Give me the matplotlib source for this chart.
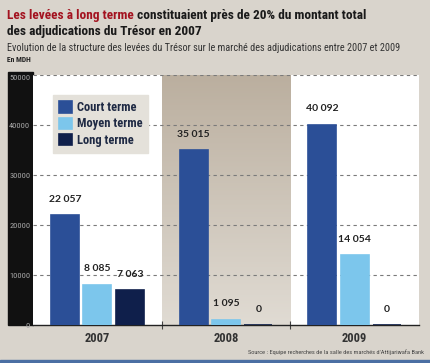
import numpy as np
import matplotlib
matplotlib.use('Agg')
import matplotlib.pyplot as plt
from matplotlib.patches import Rectangle
from matplotlib import font_manager as fm

## data (MDH)
years = ['2007', '2008', '2009']
series = ['Court terme', 'Moyen terme', 'Long terme']
court = [22057, 35015, 40092]
moyen = [8085, 1095, 14054]
long_ = [7063, 0, 0]
values = [court, moyen, long_]
yticks = [0, 10000, 20000, 30000, 40000, 50000]

colors = ['#2b4f97', '#7cc6ec', '#0f1f4b']
bg = '#d9d4cc'

## pick a condensed family if one is installed
installed = set(f.name for f in fm.fontManager.ttflist)
cands = ['Roboto Condensed', 'Liberation Sans Narrow', 'Archivo Narrow', 'PT Sans Narrow',
         'Barlow Condensed', 'Encode Sans Condensed', 'Open Sans Condensed', 'Fira Sans Condensed',
         'IBM Plex Sans Condensed', 'Asap Condensed', 'Saira Condensed']
narrow_name = next((c for c in cands if c in installed), 'DejaVu Sans')
narrow = [narrow_name, 'DejaVu Sans']

W, H = 430, 363
fig = plt.figure(figsize=(W / 100, H / 100), dpi=100, facecolor=bg)

## black strip behind y tick labels
fig.patches.append(Rectangle((8 / W, 1 - 325 / H), 25 / W, 253 / H,
                             transform=fig.transFigure, color='#111111', zorder=-1))

## axes placement in pixels
x0, x1, ytop, ybot = 33, 419, 75, 325
ax = fig.add_axes([x0 / W, 1 - ybot / H, (x1 - x0) / W, (ybot - ytop) / H])
ax.set_facecolor('white')

## shaded middle panel (2008), darker at top
grad = np.linspace(0, 1, 100).reshape(-1, 1)
cmap_bg = matplotlib.colors.LinearSegmentedColormap.from_list('bgp', ['#e0dbd3', '#bbaf9f'])
ax.imshow(grad, extent=(0.5, 1.5, 0, 50000), origin='lower', aspect='auto', cmap=cmap_bg, zorder=0)
ax.set_xlim(-0.5, 2.5)
ax.set_ylim(0, 50000)

## grid
for y in yticks[1:]:
    ax.axhline(y, color='#7a7a7a', lw=0.8, ls=(0, (3, 3)), zorder=1)

## bars
off = 0.252
bw = 0.217
x = np.arange(len(years))
for i, (vals, c) in enumerate(zip(values, colors)):
    xs = x + (i - 1) * off
    ax.bar(xs, vals, width=bw, color=c, edgecolor=c, linewidth=1.2, label=series[i], zorder=3)
    for xi, v in zip(xs, vals):
        lab = f'{v:,}'.replace(',', ' ')
        ax.annotate(lab, (xi, v), xytext=(0, 8), textcoords='offset points',
                    ha='center', va='bottom', fontsize=7.5, fontweight='bold',
                    family='Lato', color='#222222', zorder=4)

## axes styling
for s in ['top', 'right', 'left']:
    ax.spines[s].set_visible(False)
ax.spines['bottom'].set_color('#222222')
ax.spines['bottom'].set_linewidth(1.0)
ax.set_yticks(yticks)
ax.set_yticklabels([str(v) for v in yticks])
ax.tick_params(axis='y', length=0, pad=2, labelsize=6, labelcolor='#a8a8a8')
for t in ax.get_yticklabels():
    t.set_family(narrow)
ax.get_yticklabels()[-1].set_va('top')
ax.set_xticks([0.5, 1.5], minor=False)
ax.set_xticklabels([])
ax.tick_params(axis='x', direction='inout', length=6, color='#444444')
ax.set_xticks(x, minor=True)
ax.set_xticklabels(years, minor=True, fontsize=9, family=narrow, fontweight='bold', color='#333333')
ax.tick_params(axis='x', which='minor', length=0, pad=5)

## legend
leg = ax.legend(loc='upper left', bbox_to_anchor=(0.035, 0.945), frameon=True,
                fancybox=False, handlelength=1.0, handleheight=1.0, handletextpad=0.4,
                borderpad=0.5, labelspacing=0.25,
                prop={'family': narrow, 'weight': 'bold', 'size': 9})
leg.get_frame().set_facecolor('#e4e1da')
leg.get_frame().set_edgecolor('#e4e1da')
leg.get_frame().set_alpha(1)
for t in leg.get_texts():
    t.set_color('#1f2a44')

## titles
t1 = fig.text(7 / W, 1 - 15 / H, 'Les levées à long terme', fontsize=9.6, fontweight='bold',
              family=narrow, color='#a3121f', va='center', ha='left')
fig.canvas.draw()
bb = t1.get_window_extent()
fig.text((bb.x1 + 3) / W, 1 - 15 / H, 'constituaient près de 20% du montant total',
         fontsize=9.6, fontweight='bold', family=narrow, color='#1a1a1a', va='center', ha='left')
fig.text(7 / W, 1 - 32 / H, 'des adjudications du Trésor en 2007', fontsize=9.6,
         fontweight='bold', family=narrow, color='#1a1a1a', va='center', ha='left')
fig.text(7 / W, 1 - 48 / H,
         'Evolution de la structure des levées du Trésor sur le marché des adjudications entre 2007 et 2009',
         fontsize=7.35, family=narrow, color='#333333', va='center', ha='left')
fig.text(7 / W, 1 - 60 / H, 'En MDH', fontsize=5.5, fontweight='bold', family=narrow,
         color='#222222', va='center', ha='left')
fig.text(424 / W, 1 - 352 / H, "Source : Equipe recherches de la salle des marchés d'Attijariwafa Bank",
         fontsize=4.6, family=narrow, color='#444444', va='center', ha='right')

## bottom blue band
fig.patches.append(Rectangle((0, 0), 1, 3 / H, transform=fig.transFigure,
                             color='#4b6fa3', zorder=0))

fig.savefig('out.png', dpi=100, facecolor=bg)
